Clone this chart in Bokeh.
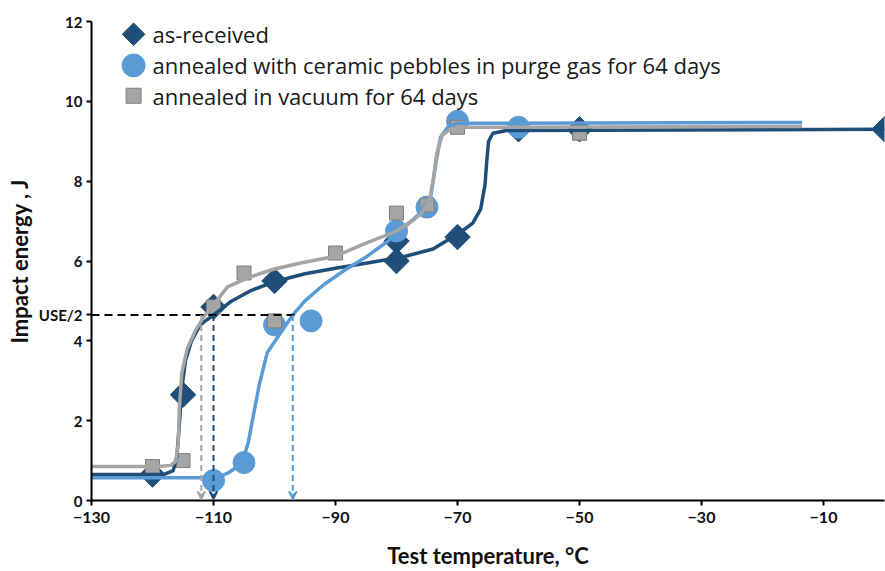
from math import pi

from bokeh.embed import file_html
from bokeh.models import Arrow, FixedTicker, Label, Range1d, VeeHead
from bokeh.plotting import figure
from bokeh.resources import INLINE

# Measured Charpy impact energies (J) against test temperature (°C)
ar_temp = [-120, -115, -110, -100, -80, -80, -70, -60, -50, 0]
ar_energy = [0.65, 2.65, 4.85, 5.5, 6.0, 6.5, 6.6, 9.3, 9.3, 9.3]

pebble_temp = [-110, -105, -100, -94, -80, -75, -70, -60]
pebble_energy = [0.5, 0.95, 4.4, 4.5, 6.75, 7.35, 9.5, 9.35]

vacuum_temp = [-120, -115, -110, -105, -100, -90, -80, -75, -70, -50]
vacuum_energy = [0.85, 1.0, 4.85, 5.7, 4.5, 6.2, 7.2, 7.4, 9.35, 9.2]

# Fitted transition curves
ar_fit_t = [-130, -118, -116.6, -116.0, -115.6, -115.2, -114.6, -113.6, -112.2, -110, -107,
            -104, -100, -95, -90, -86, -79, -74, -69.5, -67.5, -66.2, -65.5, -65.2, -64.9,
            -64.2, -62, 0]
ar_fit_e = [0.65, 0.66, 0.75, 1.1, 1.9, 2.8, 3.5, 4.0, 4.4, 4.65, 5.0,
            5.25, 5.48, 5.68, 5.82, 5.92, 6.1, 6.3, 6.72, 6.95, 7.3, 7.9, 8.5, 9.0,
            9.2, 9.27, 9.3]

pebble_fit_t = [-130, -111, -109, -107.5, -106, -105, -104.3, -103.5, -102.5, -101.2, -99,
                -97, -95, -92, -88.7, -84.8, -80.5, -76.6, -74.4, -73.6, -72.8, -71.6, -70, -13.5]
pebble_fit_e = [0.57, 0.57, 0.6, 0.7, 0.85, 1.1, 1.45, 2.1, 2.9, 3.7, 4.2,
                4.65, 5.0, 5.4, 5.75, 6.12, 6.6, 7.13, 7.6, 8.4, 9.1, 9.35, 9.45, 9.47]

vacuum_fit_t = [-130, -119, -117, -116.2, -115.8, -115.6, -115.2, -114.3, -113, -111.6, -110,
                -107.7, -104, -100, -95.7, -90, -85, -80, -77, -75.6, -74.5, -74, -73.4,
                -72.5, -71.2, -69, -13.5]
vacuum_fit_e = [0.85, 0.85, 0.88, 0.98, 1.4, 2.3, 3.2, 3.8, 4.25, 4.6, 4.9,
                5.35, 5.6, 5.8, 5.95, 6.12, 6.45, 6.75, 7.05, 7.25, 7.6, 8.0, 8.7,
                9.15, 9.3, 9.35, 9.37]

# Upper-shelf energy and the temperatures where each fit reaches USE/2
use_energy = 9.3
dbtt_temp = [-112, -110, -97]

x_ticks = [-130, -110, -90, -70, -50, -30, -10]
y_ticks = [0, 2, 4, 6, 8, 10, 12]

series_names = ["as-received",
                "annealed with ceramic pebbles in purge gas for 64 days",
                "annealed in vacuum for 64 days"]

DARK = "#1f4e79"
LIGHT = "#5b9bd5"
GREY = "#a5a5a5"
GREY_EDGE = "#7f7f7f"

half_use = use_energy / 2

p = figure(width=885, height=571, x_range=Range1d(-130, 0), y_range=Range1d(0, 12),
           output_backend="svg", toolbar_location=None,
           min_border_left=91, min_border_right=1, min_border_top=21, min_border_bottom=67)
p.outline_line_color = None
p.xgrid.visible = False
p.ygrid.visible = False
p.background_fill_color = "white"
p.border_fill_color = "white"

for ax in (p.xaxis[0], p.yaxis[0]):
    ax.axis_line_color = "black"
    ax.axis_line_width = 2
    ax.major_tick_line_color = "black"
    ax.major_tick_line_width = 2
    ax.major_tick_out = 5
    ax.major_tick_in = 0
    ax.minor_tick_line_color = None
    ax.major_label_text_font = "Lato"
    ax.major_label_text_font_style = "bold"
    ax.major_label_text_font_size = "15px"
    ax.major_label_text_color = "#111111"
    ax.axis_label_text_font = "Lato"
    ax.axis_label_text_font_style = "bold"
    ax.axis_label_text_font_size = "22px"
    ax.axis_label_text_color = "#111111"

p.xaxis.ticker = FixedTicker(ticks=x_ticks)
p.xaxis.major_label_text_font_size = "16px"
# the USE/2 level is marked on the energy axis as an extra labelled tick
p.yaxis.ticker = FixedTicker(ticks=y_ticks + [half_use])
p.yaxis.major_label_overrides = {half_use: "USE/2"}
p.xaxis.axis_label = "Test temperature, °C"
p.yaxis.axis_label = "Impact energy , J"
p.xaxis.major_label_standoff = 6
p.yaxis.major_label_standoff = 4
p.xaxis.axis_label_standoff = 16
p.yaxis.axis_label_standoff = 3

# Markers
p.scatter(ar_temp, ar_energy, marker="square", angle=pi / 4, size=18,
          fill_color=DARK, line_color=DARK)
p.scatter(pebble_temp, pebble_energy, marker="circle", size=22,
          fill_color=LIGHT, line_color=LIGHT)
p.scatter(vacuum_temp, vacuum_energy, marker="square", size=14,
          fill_color=GREY, line_color=GREY_EDGE, line_width=1)

# Fit curves
p.line(ar_fit_t, ar_fit_e, line_color=DARK, line_width=3.5)
p.line(pebble_fit_t, pebble_fit_e, line_color=LIGHT, line_width=3.5)
p.line(vacuum_fit_t, vacuum_fit_e, line_color=GREY, line_width=3.5)

# USE/2 guide and arrows down to the transition temperatures
p.line([-130, max(dbtt_temp) + 0.4], [half_use, half_use], line_color="black",
       line_width=2, line_dash="8 5")
for t, c in zip(dbtt_temp, [GREY, DARK, LIGHT]):
    p.add_layout(Arrow(x_start=t, y_start=half_use, x_end=t, y_end=0.03,
                       line_color=c, line_width=2, line_dash="6 4",
                       end=VeeHead(size=8, line_color=c, fill_color=c, line_width=1.5)))

# Legend, drawn in the upper-left corner
leg_x = -123.1
txt_x = -120.0
leg_y = [11.68, 10.9, 10.14]
p.scatter([leg_x], [leg_y[0]], marker="square", angle=pi / 4, size=16,
          fill_color=DARK, line_color=DARK)
p.scatter([leg_x], [leg_y[1]], marker="circle", size=23, fill_color=LIGHT, line_color=LIGHT)
p.scatter([leg_x], [leg_y[2]], marker="square", size=15, fill_color=GREY,
          line_color=GREY_EDGE, line_width=1)
for name, yy in zip(series_names, leg_y):
    p.add_layout(Label(x=txt_x, y=yy, text=name, text_baseline="middle",
                       text_font="Open Sans", text_font_size="22px", text_color="#1a1a1a"))

open("out.html", "w").write(file_html(p, INLINE))
